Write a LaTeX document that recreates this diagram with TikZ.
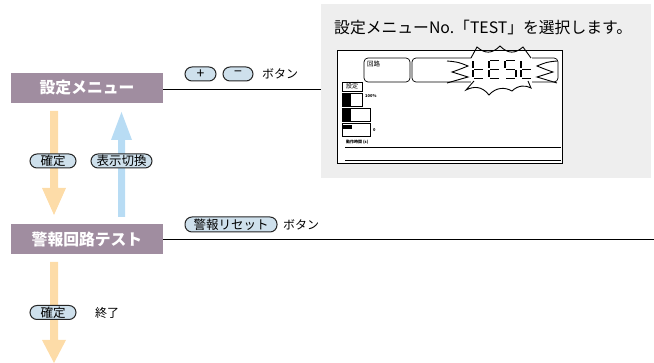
\documentclass[tikz,border=0pt]{standalone}
\usepackage{fontspec}
\setmainfont{Noto Sans CJK JP}
\definecolor{mauve}{HTML}{A08DA0}
\definecolor{orangearr}{HTML}{FDDCA8}
\definecolor{bluearr}{HTML}{B8DCF4}
\definecolor{btnfill}{HTML}{CEE0EC}
\definecolor{panelgray}{HTML}{EEEEEE}
\newcommand\sgA[1]{\draw[seg] (#1+1,60.5) -- (#1+10,60.5);}
\newcommand\sgC[1]{\draw[seg] (#1+11,70.5) -- (#1+11,77.5);}
\newcommand\sgD[1]{\draw[seg] (#1+1,78.5) -- (#1+10,78.5);}
\newcommand\sgE[1]{\draw[seg] (#1,70.5) -- (#1,77.5);}
\newcommand\sgF[1]{\draw[seg] (#1,61.5) -- (#1,68.5);}
\newcommand\sgG[1]{\draw[seg] (#1+1,69.5) -- (#1+10,69.5);}
\tikzset{
  menubox/.style={fill=mauve, text=white, font=\fontsize{15.8}{15.8}\selectfont\bfseries, minimum width=152pt, minimum height=30pt, inner sep=0pt},
  btn/.style={draw=black!85, fill=btnfill, rounded corners=7pt, line width=1pt, minimum height=14pt, inner sep=0pt, font=\fontsize{12.5}{12.5}\selectfont},
  plain/.style={font=\fontsize{12}{12}\selectfont, inner sep=0pt, anchor=west},
  conn/.style={line width=0.9pt, draw=black},
  lcd/.style={draw=black, line width=0.7pt},
  seg/.style={line width=1.8pt, line cap=butt},
  burst/.style={line width=0.9pt},
  tiny/.style={font=\fontsize{4}{4}\selectfont\bfseries, inner sep=0pt, anchor=west}
}
\begin{document}
\begin{tikzpicture}[x=1pt,y=-1pt]
\useasboundingbox (0,0) rectangle (654,363);
% grey panel
\fill[panelgray] (321,4) rectangle (651,178);
\node[font=\fontsize{15.8}{15.8}\selectfont, anchor=west, inner sep=0pt] (title) at (334,28) {設定メニューNo.「TEST」を選択します。};
% LCD
\draw[lcd, fill=white] (337,50) rectangle (562,163);
\draw[lcd, rounded corners=4pt] (364,58) rectangle (410,82);
\node[font=\fontsize{6.5}{6.5}\selectfont, anchor=north west, inner sep=0pt] at (367,61) {回路};
\draw[lcd, rounded corners=4pt] (412,58) rectangle (558,82);
% burst
\fill[white] (471,55) rectangle (532,85);
\draw[burst] (447,61) .. controls (458,62) .. (468,66) .. controls (458,70) .. (452,72) .. controls (460,74) .. (468,77) .. controls (458,80) .. (447,83);
\draw[burst] (557,61) .. controls (547,62) .. (537,66) .. controls (547,70) .. (553,72) .. controls (545,74) .. (537,77) .. controls (547,80) .. (557,83);
\draw[burst] (471,58) -- (477,47) .. controls (485,54) and (492,54) .. (500,46) .. controls (508,54) and (515,54) .. (523,47) -- (531,58);
\draw[burst] (474,81) -- (466,90) .. controls (474,86) and (482,86) .. (489,95) .. controls (496,87) and (505,87) .. (512,91) .. controls (518,85) and (526,85) .. (531,88) -- (528,81);
% tESt segments
\sgF{473}\sgE{473}\sgG{473}\sgD{473}
\sgA{489}\sgF{489}\sgG{489}\sgE{489}\sgD{489}
\sgA{505}\sgF{505}\sgG{505}\sgC{505}\sgD{505}
\sgF{521}\sgE{521}\sgG{521}\sgD{521}
% small boxes
\draw[lcd] (342,82) rectangle (362,91);
\node[font=\fontsize{6}{6}\selectfont, inner sep=0pt] at (352,86.5) {設定};
\draw[lcd] (342,93) rectangle (362,106);
\fill[black] (342,93) rectangle (351,106);
\node[tiny] at (365,96) {100\%};
\draw[lcd] (342,108) rectangle (370,121);
\fill[black] (342,108) rectangle (351,121);
\draw[lcd] (342,123) rectangle (370,136);
\fill[black] (343,125) rectangle (352,129);
\node[tiny] at (373,130) {0};
\node[tiny] at (346,142) {動作時間 (s)};
\draw[line width=0.8pt] (345,147) -- (561,147);
\draw[line width=0.8pt] (345,160.5) -- (561,160.5);
\coordinate (panelL) at (321,89);
% menu boxes
\node[menubox] (menu) at (87,88) {設定メニュー};
\node[menubox] (test) at (87,239) {警報回路テスト};
\coordinate (rightEnd) at (654,239);
\draw[conn] (menu.east |- panelL) -- (panelL);
\draw[conn] (test.east) -- (rightEnd);
% arrows
\fill[orangearr] (50,111) -- (58,111) -- (58,188) -- (66,188) -- (54,215) -- (42,188) -- (50,188) -- cycle;
\fill[bluearr] (118,217) -- (125,217) -- (125,140) -- (132,140) -- (121.5,112) -- (111,140) -- (118,140) -- cycle;
\fill[orangearr] (50,262) -- (58,262) -- (58,340) -- (66,340) -- (54,363) -- (42,340) -- (50,340) -- cycle;
% buttons
\node[btn, minimum width=31pt, font=\fontsize{14}{14}\selectfont] (plus) at (200.5,74) {+};
\node[btn, minimum width=30pt, font=\fontsize{14}{14}\selectfont] (minus) at (238,74) {−};
\node[plain] (btn1) at (262,74) {ボタン};
\node[btn, minimum width=46pt] (kakutei1) at (53,161) {確定};
\node[btn, minimum width=61pt] (hyouji) at (121.5,161) {表示切換};
\node[btn, minimum width=92pt, minimum height=15pt] (reset) at (231,224.5) {警報リセット};
\node[plain] (btn2) at (283,224.5) {ボタン};
\node[btn, minimum width=46pt] (kakutei2) at (53,312.5) {確定};
\node[plain] (end) at (95,312.5) {終了};
\end{tikzpicture}
\end{document}
